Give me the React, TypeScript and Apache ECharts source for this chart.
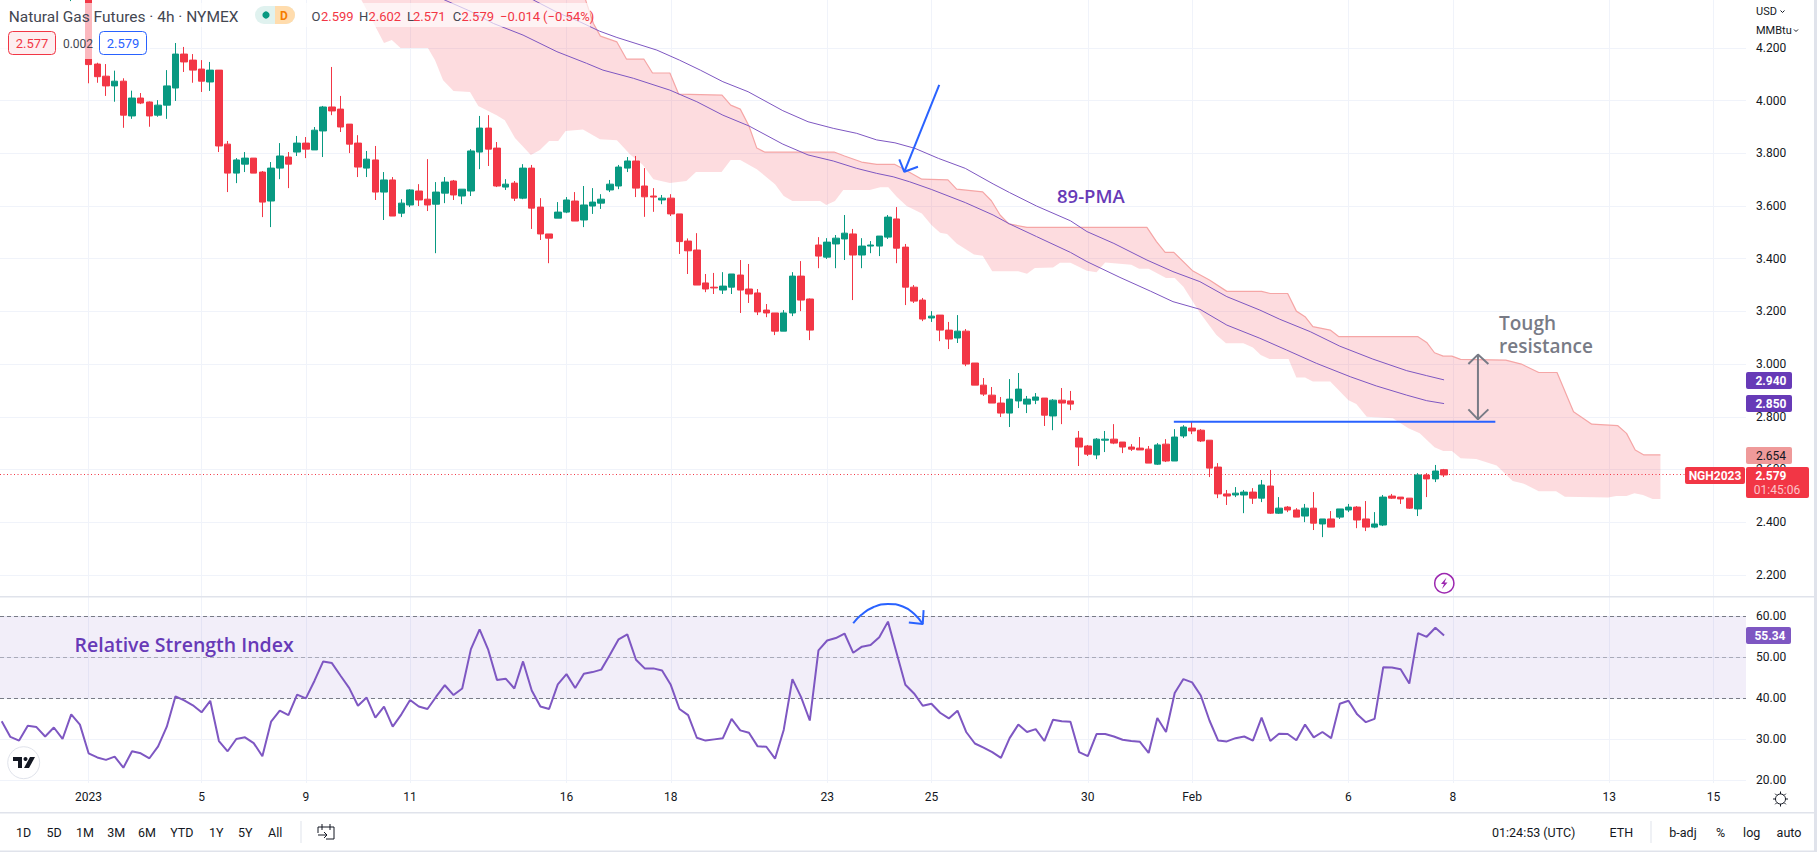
import React, { useEffect, useRef } from "react";
import * as echarts from "echarts";

// Candles: index -2 .. 156 (4h bars, index 0 is the "2023" tick)
const firstBar = -2;
const opens = [
  4.5, 4.52,
  4.5, 4.139, 4.093, 4.056, 4.074, 3.942, 4.01, 3.995, 3.945, 3.983,
  4.048, 4.177, 4.154, 4.12, 4.071, 4.116, 3.835, 3.725, 3.759, 3.782,
  3.729, 3.619, 3.744, 3.786, 3.805, 3.839, 3.813, 3.885, 3.976, 3.968,
  3.911, 3.839, 3.744, 3.775, 3.653, 3.699, 3.573, 3.604, 3.657, 3.626,
  3.607, 3.649, 3.695, 3.638, 3.657, 3.805, 3.896, 3.82, 3.672, 3.687,
  3.63, 3.744, 3.596, 3.494, 3.554, 3.577, 3.619, 3.547, 3.6, 3.611,
  3.661, 3.676, 3.744, 3.771, 3.676, 3.638, 3.623, 3.63, 3.57, 3.467,
  3.433, 3.308, 3.292, 3.281, 3.292, 3.338, 3.285, 3.27, 3.205, 3.194,
  3.125, 3.194, 3.334, 3.247, 3.452, 3.406, 3.456, 3.475, 3.494, 3.414,
  3.448, 3.448, 3.482, 3.551, 3.444, 3.292, 3.243, 3.175, 3.186, 3.129,
  3.099, 3.125, 3.004, 2.92, 2.882, 2.852, 2.814, 2.86, 2.848, 2.863,
  2.871, 2.803, 2.863, 2.86, 2.719, 2.689, 2.655, 2.711, 2.715, 2.704,
  2.685, 2.681, 2.677, 2.62, 2.696, 2.632, 2.727, 2.757, 2.749, 2.711,
  2.609, 2.507, 2.503, 2.503, 2.514, 2.491, 2.537, 2.434, 2.457, 2.446,
  2.423, 2.453, 2.393, 2.412, 2.419, 2.446, 2.457, 2.412, 2.381, 2.389,
  2.499, 2.495, 2.491, 2.45, 2.579, 2.564, 2.599,
];
const closes = [
  4.55, 4.58,
  4.137, 4.091, 4.056, 4.074, 3.945, 4.01, 3.991, 3.942, 3.983, 4.056,
  4.177, 4.147, 4.116, 4.074, 4.116, 3.828, 3.725, 3.775, 3.782, 3.725,
  3.615, 3.744, 3.79, 3.759, 3.839, 3.816, 3.888, 3.976, 3.961, 3.9,
  3.835, 3.748, 3.778, 3.653, 3.699, 3.562, 3.611, 3.661, 3.623, 3.604,
  3.653, 3.691, 3.642, 3.664, 3.809, 3.896, 3.816, 3.676, 3.683, 3.63,
  3.744, 3.592, 3.494, 3.478, 3.577, 3.623, 3.543, 3.604, 3.615, 3.626,
  3.683, 3.748, 3.771, 3.668, 3.635, 3.634, 3.63, 3.57, 3.465, 3.43,
  3.3, 3.285, 3.289, 3.296, 3.342, 3.281, 3.266, 3.198, 3.194, 3.125,
  3.194, 3.334, 3.243, 3.129, 3.41, 3.463, 3.478, 3.497, 3.414, 3.448,
  3.452, 3.486, 3.558, 3.44, 3.292, 3.239, 3.171, 3.182, 3.129, 3.095,
  3.125, 3.0, 2.92, 2.886, 2.852, 2.814, 2.867, 2.905, 2.867, 2.875,
  2.806, 2.863, 2.852, 2.848, 2.685, 2.658, 2.715, 2.715, 2.7, 2.685,
  2.677, 2.674, 2.624, 2.693, 2.632, 2.723, 2.761, 2.746, 2.708, 2.605,
  2.507, 2.499, 2.51, 2.514, 2.491, 2.541, 2.434, 2.453, 2.446, 2.419,
  2.453, 2.396, 2.412, 2.381, 2.45, 2.457, 2.408, 2.381, 2.393, 2.495,
  2.491, 2.488, 2.453, 2.579, 2.564, 2.594, 2.579,
];
const lows = [
  4.378, 4.42,
  4.066, 4.068, 4.018, 3.996, 3.897, 3.931, 3.987, 3.901, 3.939, 3.931,
  3.999, 4.109, 4.068, 4.033, 4.037, 3.805, 3.653, 3.687, 3.729, 3.725,
  3.558, 3.52, 3.702, 3.668, 3.79, 3.782, 3.813, 3.786, 3.945, 3.881,
  3.801, 3.71, 3.71, 3.623, 3.547, 3.562, 3.558, 3.596, 3.6, 3.581,
  3.421, 3.611, 3.623, 3.607, 3.638, 3.74, 3.752, 3.672, 3.661, 3.619,
  3.626, 3.513, 3.471, 3.383, 3.554, 3.573, 3.543, 3.52, 3.57, 3.589,
  3.653, 3.664, 3.729, 3.634, 3.559, 3.578, 3.607, 3.562, 3.418, 3.342,
  3.3, 3.273, 3.266, 3.266, 3.266, 3.194, 3.232, 3.186, 3.178, 3.11,
  3.125, 3.182, 3.201, 3.091, 3.364, 3.399, 3.364, 3.395, 3.243, 3.364,
  3.421, 3.41, 3.475, 3.383, 3.224, 3.232, 3.163, 3.16, 3.087, 3.057,
  3.08, 2.992, 2.92, 2.879, 2.852, 2.799, 2.761, 2.833, 2.814, 2.848,
  2.765, 2.749, 2.772, 2.825, 2.613, 2.651, 2.639, 2.666, 2.696, 2.662,
  2.67, 2.674, 2.624, 2.617, 2.628, 2.632, 2.719, 2.734, 2.704, 2.571,
  2.491, 2.465, 2.495, 2.434, 2.469, 2.476, 2.431, 2.431, 2.438, 2.419,
  2.4, 2.37, 2.343, 2.381, 2.412, 2.438, 2.377, 2.366, 2.377, 2.385,
  2.488, 2.469, 2.45, 2.423, 2.495, 2.552, 2.571,
];
const highs = [
  4.6, 4.62,
  4.56, 4.144, 4.139, 4.114, 4.085, 4.038, 4.029, 3.997, 4.002, 4.116,
  4.219, 4.204, 4.177, 4.154, 4.147, 4.116, 3.847, 3.782, 3.805, 3.782,
  3.733, 3.767, 3.839, 3.805, 3.866, 3.862, 3.9, 3.98, 4.128, 4.018,
  3.911, 3.869, 3.809, 3.828, 3.729, 3.71, 3.626, 3.664, 3.683, 3.778,
  3.691, 3.71, 3.699, 3.664, 3.816, 3.942, 3.945, 3.843, 3.702, 3.695,
  3.759, 3.756, 3.63, 3.494, 3.615, 3.634, 3.653, 3.676, 3.668, 3.645,
  3.699, 3.756, 3.786, 3.79, 3.744, 3.668, 3.642, 3.645, 3.57, 3.477,
  3.497, 3.342, 3.346, 3.349, 3.342, 3.395, 3.38, 3.285, 3.228, 3.194,
  3.205, 3.349, 3.391, 3.249, 3.482, 3.478, 3.49, 3.566, 3.513, 3.478,
  3.467, 3.486, 3.566, 3.596, 3.456, 3.3, 3.251, 3.201, 3.186, 3.16,
  3.186, 3.133, 3.004, 2.947, 2.913, 2.875, 2.943, 2.966, 2.879, 2.89,
  2.871, 2.867, 2.909, 2.898, 2.746, 2.693, 2.719, 2.746, 2.772, 2.704,
  2.696, 2.723, 2.689, 2.7, 2.715, 2.753, 2.768, 2.78, 2.753, 2.711,
  2.624, 2.522, 2.533, 2.522, 2.529, 2.56, 2.598, 2.495, 2.461, 2.453,
  2.469, 2.514, 2.412, 2.442, 2.45, 2.469, 2.461, 2.48, 2.438, 2.503,
  2.507, 2.495, 2.491, 2.586, 2.586, 2.617, 2.602,
];

// Ichimoku-style cloud: vertices [bar index, price]
const cloudUpper: number[][] = [
  [31, 4.6], [56, 4.6], [57.2, 4.382], [58.1, 4.293], [58.9, 4.245], [60.8, 4.223], [61.9, 4.158],
  [63.9, 4.158], [64.9, 4.105], [66.9, 4.105], [67.9, 4.025], [72.9, 4.021], [73.9, 3.983],
  [75, 3.968], [76, 3.904], [76.9, 3.82], [77.8, 3.805], [85.8, 3.805], [87, 3.79], [88.96, 3.767],
  [90.7, 3.758], [92.8, 3.758], [94, 3.737], [95.9, 3.702], [98.9, 3.699], [99.9, 3.664],
  [102.9, 3.654], [103.9, 3.62], [104.9, 3.566], [105.9, 3.532], [108, 3.519], [121.8, 3.519],
  [122.9, 3.465], [123.9, 3.424], [124.9, 3.424], [127.1, 3.353], [129, 3.319], [131, 3.276],
  [135, 3.276], [136, 3.268], [138, 3.268], [139, 3.201], [140, 3.18], [140.9, 3.142], [142.9, 3.129],
  [143.9, 3.104], [153, 3.104], [154, 3.082], [154.9, 3.043], [155.9, 3.03], [156.9, 3.03],
  [157.9, 3.018], [163.1, 3.015], [164.9, 3.0], [166.9, 2.968], [169, 2.968], [170.9, 2.819],
  [173, 2.772], [176, 2.766], [177, 2.737], [178, 2.674], [179, 2.655], [180.9, 2.655],
];
const cloudLower: number[][] = [
  [31, 4.4], [31.4, 4.382], [34, 4.219], [34.9, 4.23], [35.9, 4.2], [39.05, 4.2], [39.86, 4.154],
  [40.8, 4.078], [42, 4.037], [43.9, 4.033], [44.85, 3.98], [46.96, 3.945], [47.9, 3.926],
  [49.07, 3.858], [50.9, 3.794], [51.94, 3.813], [53, 3.847], [54.05, 3.847], [54.9, 3.885],
  [56.9, 3.891], [58.85, 3.854], [60.8, 3.85], [62.3, 3.797], [63.8, 3.756], [65, 3.702],
  [66.9, 3.687], [68.8, 3.695], [69.9, 3.729], [72.85, 3.729], [73.9, 3.775], [75, 3.775],
  [76.9, 3.74], [79, 3.683], [80, 3.638], [81, 3.619], [84.2, 3.619], [84.9, 3.604], [85.9, 3.619],
  [86.85, 3.661], [89.9, 3.661], [91.1, 3.671], [92.04, 3.671], [93, 3.635], [94.15, 3.6],
  [95.9, 3.572], [97, 3.528], [98, 3.499], [98.8, 3.494], [99.9, 3.458], [101.9, 3.416],
  [102.9, 3.411], [104, 3.352], [107, 3.352], [108, 3.343], [108.9, 3.365], [111, 3.367],
  [111.8, 3.385], [113, 3.385], [114.9, 3.354], [116, 3.349], [117, 3.386], [120, 3.377],
  [120.9, 3.362], [122, 3.362], [124, 3.327], [125, 3.327], [126, 3.294], [127.9, 3.195],
  [129.8, 3.11], [130.9, 3.079], [132.9, 3.079], [134, 3.063], [134.9, 3.034], [135.9, 3.019],
  [138.1, 3.019], [139, 2.949], [140, 2.949], [140.9, 2.934], [142.9, 2.934], [145, 2.863],
  [145.9, 2.848], [147.1, 2.8], [150.1, 2.794], [151.9, 2.756], [153.2, 2.737], [154.9, 2.684],
  [155.9, 2.67], [156.9, 2.67], [157.9, 2.642], [159.7, 2.64], [162.05, 2.615], [163.9, 2.556],
  [165.1, 2.547], [166.9, 2.517], [168.9, 2.517], [169.9, 2.496], [174.9, 2.493], [175.8, 2.499],
  [177, 2.499], [177.9, 2.51], [178.9, 2.503], [180, 2.488], [180.9, 2.488],
];

// Moving averages: vertices [bar index, price]
const maUpper: number[][] = [
  [46, 4.47], [51.2, 4.382], [54.2, 4.331], [56.5, 4.3], [58.8, 4.264], [60.8, 4.24], [63, 4.217],
  [65.4, 4.192], [68, 4.154], [70.4, 4.116], [73, 4.072], [75.9, 4.034], [79.9, 3.962],
  [82.8, 3.92], [85.7, 3.895], [88.4, 3.876], [90.7, 3.851], [92.8, 3.84], [95.1, 3.819],
  [97.8, 3.781], [100.9, 3.743], [104.1, 3.684], [106, 3.651], [109.1, 3.6], [113, 3.544],
  [114.9, 3.503], [118, 3.458], [121.8, 3.395], [124.8, 3.351], [127.9, 3.313], [131, 3.256],
  [134.8, 3.205], [137.1, 3.17], [140.6, 3.123], [144, 3.068], [147.8, 3.019], [151.7, 2.975],
  [154, 2.956], [156, 2.94],
];
const maLower: number[][] = [
  [36, 4.46], [41, 4.382], [43.9, 4.34], [46.6, 4.293], [50, 4.249], [53.9, 4.186], [57.3, 4.142],
  [59.2, 4.116], [62.7, 4.085], [66.9, 4.04], [70, 3.996], [73, 3.945], [76, 3.904], [79.9, 3.835],
  [82.8, 3.794], [85.7, 3.771], [88.4, 3.743], [90.7, 3.724], [92.6, 3.711], [94.5, 3.692],
  [97, 3.663], [100.9, 3.613], [104.1, 3.566], [106, 3.532], [109.1, 3.484], [113, 3.424],
  [114.9, 3.389], [118.7, 3.329], [122.2, 3.277], [124.8, 3.237], [127.9, 3.208], [131, 3.148],
  [134.8, 3.098], [137.9, 3.053], [141.3, 3.003], [145.2, 2.952], [148.2, 2.917], [151.7, 2.882],
  [154, 2.861], [156, 2.85],
];

// RSI: index -10 .. 156
const rsiFirstBar = -10;
const rsiValues = [
  34.4, 30.6, 29.7, 33.3, 33.0, 30.7, 32.9, 30.1, 36.1, 33.6,
  26.6, 25.6, 25.0, 25.8, 23.1, 27.1, 26.6, 25.4, 28.3, 33.1,
  40.5, 39.5, 38.3, 36.6, 39.4, 29.6, 27.1, 30.1, 30.5, 29.1,
  25.9, 34.3, 37.0, 35.9, 40.9, 40.0, 44.3, 49.0, 48.6, 45.5,
  42.5, 38.2, 40.2, 35.3, 38.0, 33.1, 36.1, 39.6, 38.0, 37.4,
  40.4, 43.2, 40.8, 42.4, 52.0, 56.8, 51.8, 44.5, 44.8, 42.4,
  49.0, 41.9, 38.0, 37.4, 43.4, 45.9, 42.5, 46.0, 46.4, 47.0,
  50.6, 54.4, 55.6, 49.4, 47.3, 47.3, 46.8, 43.3, 37.4, 35.9,
  30.4, 29.7, 30.0, 30.3, 35.0, 32.2, 31.6, 28.3, 28.2, 25.3,
  32.3, 44.7, 40.3, 34.6, 51.7, 54.1, 54.7, 55.8, 51.1, 52.6,
  53.0, 54.9, 58.7, 51.0, 43.3, 41.2, 38.2, 38.7, 36.5, 35.1,
  37.0, 31.8, 29.0, 28.0, 26.9, 25.5, 30.3, 33.6, 31.8, 32.5,
  29.6, 34.8, 34.4, 34.3, 26.9, 25.9, 31.3, 31.3, 30.7, 29.9,
  29.6, 29.4, 26.7, 35.2, 31.8, 41.3, 44.7, 43.9, 40.7, 34.6,
  29.7, 29.5, 30.3, 30.7, 29.7, 35.3, 29.6, 31.4, 31.3, 29.8,
  33.6, 30.5, 31.8, 30.3, 38.7, 39.4, 36.1, 34.2, 35.0, 47.6,
  47.5, 47.1, 43.6, 55.9, 55.0, 57.2, 55.34,
];

// Axis ticks
const timeTickBars = [0, 13, 25, 37, 55, 67, 85, 97, 115, 127, 145, 157, 175, 187];
const timeTickLabels = ["2023", "5", "9", "11", "16", "18", "23", "25", "30", "Feb", "6", "8", "13", "15"];
const priceTicks = [2.2, 2.4, 2.6, 2.8, 3.0, 3.2, 3.4, 3.6, 3.8, 4.0, 4.2];
const rsiTicks = [20, 30, 40, 50, 60];

// Drawn annotations, in chart coordinates
const blueArrowShaft = [[97.9, 4.06], [93.88, 3.73]];
const blueArrowHead = [[93.3, 3.777], [93.88, 3.73], [95.45, 3.749]];
const resistanceLine = [[124.9, 2.781], [161.9, 2.781]];
const toughArrowShaft = [[159.9, 3.036], [159.9, 2.79]];
const toughArrowTop = [[158.8, 3.0], [159.9, 3.036], [161.1, 3.0]];
const toughArrowBottom = [[158.8, 2.828], [159.9, 2.79], [161.1, 2.828]];
const rsiArc = [[88, 58.3], [88.9, 60.3], [90.3, 62.2], [92, 63], [93.7, 62.4], [95, 60.6], [96, 58.1]];
const rsiArcHead = [[94.4, 58.5], [96, 58.1], [96.1, 61.5]];

const lastPrice = 2.579;

const FONT = "Roboto, 'Noto Sans', sans-serif";
const TEXT_HUMAN = "'Open Sans', 'Noto Sans', sans-serif";
const RED = "#f23645";
const GREEN = "#089981";
const BLUE = "#2962ff";
const GREY = "#787b86";
const PURPLE = "#673ab7";
const RSI_PURPLE = "#7e57c2";
const INK = "#131722";
const BORDER = "#e0e3eb";
const GRID = "#f0f3fa";

const xMin = -10.197;
const xMax = 190.75;
const priceMin = 2.1195;
const priceMax = 4.3822;
const rsiMin = 19.37;
const rsiMax = 64.7;

function txt(text: string, x: number, y: number, fill: string, font: string, align = "left") {
  return {
    type: "text",
    z: 110,
    silent: true,
    style: { text, x, y, fill, font, textAlign: align, textVerticalAlign: "middle" },
  };
}
function box(x: number, y: number, w: number, h: number, fill: string, r = 2, stroke?: string, z = 105) {
  return {
    type: "rect",
    z,
    silent: true,
    shape: { x, y, width: w, height: h, r },
    style: { fill, stroke: stroke ?? "none", lineWidth: stroke ? 1 : 0 },
  };
}
function pline(points: number[][], stroke: string, lineWidth = 1, fill = "none") {
  return { type: "polyline", z: 110, silent: true, shape: { points }, style: { stroke, lineWidth, fill } };
}

function annotationLine(data: number[][], color: string, width: number, xIdx = 0, smooth = false) {
  return {
    type: "line",
    xAxisIndex: xIdx,
    yAxisIndex: xIdx,
    data,
    showSymbol: false,
    symbol: "none",
    smooth,
    silent: true,
    z: 20,
    lineStyle: { color, width },
  };
}

function buildOption() {
  const candles = opens.map((o, k) => [k + firstBar, o, closes[k], lows[k], highs[k]]);
  const rsi = rsiValues.map((v, k) => [k + rsiFirstBar, v]);

  const gearTicks: any[] = [];
  for (let a = 0; a < 8; a++) {
    const t = (a * Math.PI) / 4;
    gearTicks.push(
      pline(
        [
          [1780.5 + 5 * Math.cos(t), 799 + 5 * Math.sin(t)],
          [1780.5 + 7.5 * Math.cos(t), 799 + 7.5 * Math.sin(t)],
        ],
        INK,
        1
      )
    );
  }

  const graphic: any[] = [
    // frame lines
    box(0, 596, 1814, 1.5, BORDER, 0, undefined, 90),
    box(0, 812, 1814, 1.5, BORDER, 0, undefined, 90),
    box(0, 850.5, 1814, 1.5, BORDER, 0, undefined, 90),
    box(1814, 0, 3, 852, BORDER, 0, undefined, 90),

    // legend veil
    box(0, 3, 590, 24, "rgba(255,255,255,0.65)", 0, undefined, 100),
    box(0, 27, 150, 32, "rgba(255,255,255,0.65)", 0, undefined, 100),

    // legend first row
    txt("Natural Gas Futures · 4h · NYMEX", 8.7, 16.5, "#434651", `15.5px ${FONT}`),
    box(255, 6, 40, 18, "#e0f2ef", 9),
    {
      type: "rect", z: 106, silent: true,
      shape: { x: 275, y: 6, width: 20, height: 18, r: [0, 9, 9, 0] },
      style: { fill: "#ffdcad" },
    },
    { type: "circle", z: 110, silent: true, shape: { cx: 266, cy: 15, r: 3.6 }, style: { fill: GREEN } },
    txt("D", 284, 15.5, "#f57c00", `bold 12px ${FONT}`, "center"),
    txt("O", 311.6, 16.5, "#434651", `13px ${FONT}`),
    txt("2.599", 321, 16.5, RED, `13px ${FONT}`),
    txt("H", 359, 16.5, "#434651", `13px ${FONT}`),
    txt("2.602", 368.5, 16.5, RED, `13px ${FONT}`),
    txt("L", 407, 16.5, "#434651", `13px ${FONT}`),
    txt("2.571", 413, 16.5, RED, `13px ${FONT}`),
    txt("C", 452.7, 16.5, "#434651", `13px ${FONT}`),
    txt("2.579", 461.4, 16.5, RED, `13px ${FONT}`),
    txt("−0.014", 500, 16.5, RED, `13px ${FONT}`),
    txt("(−0.54%)", 543, 16.5, RED, `13px ${FONT}`),

    // legend second row
    box(8.5, 31.5, 47, 23, "#fdeef0", 4, RED),
    txt("2.577", 32, 43.5, RED, `13px ${FONT}`, "center"),
    txt("0.002", 78, 43.5, "#434651", `12px ${FONT}`, "center"),
    box(99.5, 31.5, 47, 23, "#ffffff", 4, BLUE),
    txt("2.579", 123, 43.5, BLUE, `13px ${FONT}`, "center"),

    // chart texts
    txt("89-PMA", 1057, 195, PURPLE, `600 18.5px ${TEXT_HUMAN}`),
    txt("Tough", 1499, 323, GREY, `600 19px ${TEXT_HUMAN}`),
    txt("resistance", 1499, 346, GREY, `600 19px ${TEXT_HUMAN}`),
    txt("Relative Strength Index", 74.5, 644, PURPLE, `600 19.5px ${TEXT_HUMAN}`),

    // earnings-like badge
    {
      type: "circle", z: 110, silent: true,
      shape: { cx: 1444.3, cy: 583.3, r: 9.6 },
      style: { fill: "#fff", stroke: "#9c27b0", lineWidth: 1.5 },
    },
    {
      type: "polygon", z: 111, silent: true,
      shape: { points: [[1446.5, 577.5], [1441, 584], [1444, 584], [1442, 589], [1447.5, 582.5], [1444.5, 582.5]] },
      style: { fill: "#9c27b0" },
    },

    // axis header
    txt("USD", 1756, 11.5, INK, `11px ${FONT}`),
    pline([[1780.5, 10.5], [1782.5, 12.5], [1784.5, 10.5]], INK, 1),
    txt("MMBtu", 1756, 30.5, INK, `11px ${FONT}`),
    pline([[1794, 29.5], [1796, 31.5], [1798, 29.5]], INK, 1),

    // price tags
    box(1746, 372, 46, 17, PURPLE),
    txt("2.940", 1771, 381, "#fff", `bold 12px ${FONT}`, "center"),
    box(1746, 395, 46, 17, PURPLE),
    txt("2.850", 1771, 404, "#fff", `bold 12px ${FONT}`, "center"),
    box(1746, 447, 46, 17, "#ef9a9a"),
    txt("2.654", 1771, 456, INK, `12px ${FONT}`, "center"),
    box(1685, 467, 60, 17, RED),
    txt("NGH2023", 1715, 476, "#fff", `bold 12px ${FONT}`, "center"),
    box(1746, 467, 63, 31, RED),
    txt("2.579", 1771, 476, "#fff", `bold 12px ${FONT}`, "center"),
    txt("01:45:06", 1777, 490, "#fbc4c9", `12px ${FONT}`, "center"),
    box(1746, 627, 45, 17, RSI_PURPLE),
    txt("55.34", 1770, 636, "#fff", `bold 12px ${FONT}`, "center"),

    // TradingView mark
    {
      type: "circle", z: 110, silent: true,
      shape: { cx: 23.7, cy: 762.7, r: 16 },
      style: { fill: "#fff", stroke: BORDER, lineWidth: 1 },
    },
    {
      type: "polygon", z: 111, silent: true,
      shape: { points: [[13, 757], [22, 757], [22, 768], [18, 768], [18, 761], [13, 761]] },
      style: { fill: INK },
    },
    { type: "circle", z: 111, silent: true, shape: { cx: 25.5, cy: 759, r: 2 }, style: { fill: INK } },
    {
      type: "polygon", z: 111, silent: true,
      shape: { points: [[30, 757], [35, 757], [29, 768], [24, 768]] },
      style: { fill: INK },
    },

    // gear
    { type: "circle", z: 110, silent: true, shape: { cx: 1780.5, cy: 799, r: 5 }, style: { fill: "none", stroke: INK, lineWidth: 1 } },
    ...gearTicks,

    // bottom toolbar
    txt("1D", 23.7, 832, INK, `12.5px ${FONT}`, "center"),
    txt("5D", 54.2, 832, INK, `12.5px ${FONT}`, "center"),
    txt("1M", 85, 832, INK, `12.5px ${FONT}`, "center"),
    txt("3M", 116.2, 832, INK, `12.5px ${FONT}`, "center"),
    txt("6M", 147, 832, INK, `12.5px ${FONT}`, "center"),
    txt("YTD", 181.9, 832, INK, `12.5px ${FONT}`, "center"),
    txt("1Y", 216.3, 832, INK, `12.5px ${FONT}`, "center"),
    txt("5Y", 245.2, 832, INK, `12.5px ${FONT}`, "center"),
    txt("All", 275.2, 832, INK, `12.5px ${FONT}`, "center"),
    box(300.5, 821, 1, 22, BORDER, 0),
    pline([[318, 827], [334, 827], [334, 839], [326, 839]], INK, 1),
    pline([[322, 824], [322, 830]], INK, 1),
    pline([[330, 824], [330, 830]], INK, 1),
    pline([[318, 827], [318, 833]], INK, 1),
    pline([[318, 835], [327, 835]], INK, 1),
    pline([[324, 832], [327, 835], [324, 838]], INK, 1),
    txt("01:24:53 (UTC)", 1492, 832, INK, `12.5px ${FONT}`),
    txt("ETH", 1621.4, 832, INK, `12.5px ${FONT}`, "center"),
    box(1650.5, 821, 1, 22, BORDER, 0),
    txt("b-adj", 1683, 832, INK, `12.5px ${FONT}`, "center"),
    txt("%", 1720.6, 832, INK, `12.5px ${FONT}`, "center"),
    txt("log", 1751.7, 832, INK, `12.5px ${FONT}`, "center"),
    txt("auto", 1789, 832, INK, `12.5px ${FONT}`, "center"),
  ];

  const commonX = {
    type: "value",
    min: xMin,
    max: xMax,
    axisLine: { show: false },
    axisTick: { show: false, customValues: timeTickBars },
    splitLine: { show: true, lineStyle: { color: GRID, width: 1 } },
  };

  return {
    animation: false,
    backgroundColor: "#ffffff",
    grid: [
      { left: 0, top: 0, width: 1746, height: 596 },
      { left: 0, top: 597, width: 1746, height: 186 },
    ],
    xAxis: [
      { ...commonX, gridIndex: 0, axisLabel: { show: false, customValues: timeTickBars } },
      {
        ...commonX,
        gridIndex: 1,
        axisLabel: {
          show: true,
          customValues: timeTickBars,
          margin: 8,
          color: INK,
          fontFamily: FONT,
          fontSize: 12,
          hideOverlap: false,
          formatter: (v: number) => timeTickLabels[timeTickBars.indexOf(Math.round(v))] ?? "",
        },
      },
    ],
    yAxis: [
      {
        type: "value",
        gridIndex: 0,
        position: "right",
        min: priceMin,
        max: priceMax,
        axisLine: { show: false },
        axisTick: { show: false, customValues: priceTicks },
        splitLine: { show: true, lineStyle: { color: GRID, width: 1 } },
        axisLabel: {
          customValues: priceTicks,
          margin: 10,
          color: INK,
          fontFamily: FONT,
          fontSize: 12,
          formatter: (v: number) => v.toFixed(3),
        },
      },
      {
        type: "value",
        gridIndex: 1,
        position: "right",
        min: rsiMin,
        max: rsiMax,
        axisLine: { show: false },
        axisTick: { show: false, customValues: rsiTicks },
        splitLine: { show: true, lineStyle: { color: GRID, width: 1 } },
        axisLabel: {
          customValues: rsiTicks,
          margin: 10,
          color: INK,
          fontFamily: FONT,
          fontSize: 12,
          formatter: (v: number) => v.toFixed(2),
        },
      },
    ],
    series: [
      {
        type: "custom",
        xAxisIndex: 0,
        yAxisIndex: 0,
        clip: true,
        silent: true,
        z: 1,
        data: [[0, 4]],
        renderItem: (_p: any, api: any) => {
          const pts = [...cloudUpper, ...[...cloudLower].reverse()].map((d) => api.coord(d));
          return { type: "polygon", shape: { points: pts }, style: { fill: "rgba(247,82,95,0.2)" } };
        },
      },
      {
        type: "line",
        xAxisIndex: 0,
        yAxisIndex: 0,
        data: cloudUpper,
        showSymbol: false,
        symbol: "none",
        silent: true,
        z: 2,
        lineStyle: { color: "#f5a6a6", width: 1.2 },
      },
      {
        type: "candlestick",
        xAxisIndex: 0,
        yAxisIndex: 0,
        data: candles,
        barWidth: 7,
        silent: true,
        z: 5,
        itemStyle: { color: GREEN, color0: RED, borderColor: GREEN, borderColor0: RED, borderWidth: 1 },
        markLine: {
          silent: true,
          symbol: "none",
          label: { show: false },
          lineStyle: { color: RED, type: [1, 2.5], width: 1 },
          data: [{ yAxis: lastPrice }],
        },
      },
      {
        type: "line",
        xAxisIndex: 0,
        yAxisIndex: 0,
        data: maUpper,
        showSymbol: false,
        symbol: "none",
        smooth: false,
        silent: true,
        z: 6,
        lineStyle: { color: RSI_PURPLE, width: 1 },
      },
      {
        type: "line",
        xAxisIndex: 0,
        yAxisIndex: 0,
        data: maLower,
        showSymbol: false,
        symbol: "none",
        silent: true,
        z: 6,
        lineStyle: { color: RSI_PURPLE, width: 1 },
      },
      annotationLine(blueArrowShaft, BLUE, 2),
      annotationLine(blueArrowHead, BLUE, 2),
      annotationLine(resistanceLine, BLUE, 2),
      annotationLine(toughArrowShaft, GREY, 2),
      annotationLine(toughArrowTop, GREY, 2),
      annotationLine(toughArrowBottom, GREY, 2),
      {
        type: "line",
        xAxisIndex: 1,
        yAxisIndex: 1,
        data: rsi,
        showSymbol: false,
        symbol: "none",
        silent: true,
        z: 6,
        lineStyle: { color: RSI_PURPLE, width: 2 },
        markArea: {
          silent: true,
          itemStyle: { color: "rgba(126,87,194,0.1)" },
          data: [[{ yAxis: 60 }, { yAxis: 40 }]],
        },
        markLine: {
          silent: true,
          symbol: "none",
          label: { show: false },
          lineStyle: { color: GREY, type: [4, 3], width: 1 },
          data: [
            { yAxis: 60 },
            { yAxis: 50, lineStyle: { color: "rgba(120,123,134,0.55)", type: [4, 3], width: 1 } },
            { yAxis: 40 },
          ],
        },
      },
      annotationLine(rsiArc, BLUE, 2, 1, true),
      annotationLine(rsiArcHead, BLUE, 2, 1),
    ],
    graphic: { elements: graphic },
  };
}

export default function App() {
  const ref = useRef<HTMLDivElement>(null);
  useEffect(() => {
    document.body.style.margin = "0";
    document.body.style.background = "#ffffff";
    const chart = echarts.init(ref.current!, undefined, { renderer: "svg", width: 1817, height: 852 });
    chart.setOption(buildOption() as any);
    return () => chart.dispose();
  }, []);
  return <div ref={ref} style={{ position: "fixed", left: 0, top: 0, width: 1817, height: 852 }} />;
}
